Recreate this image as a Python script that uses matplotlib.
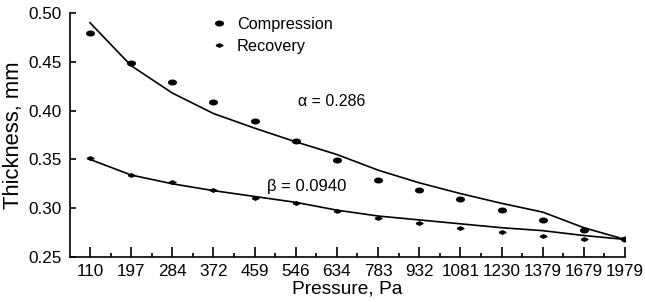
import matplotlib
matplotlib.use("Agg")
import matplotlib.pyplot as plt
import numpy as np

plt.rcParams['font.family'] = ['Liberation Sans', 'DejaVu Sans']

pressure = ["110", "197", "284", "372", "459", "546", "634", "783", "932",
            "1081", "1230", "1379", "1679", "1979"]

comp_pts = [0.479, 0.449, 0.429, 0.409, 0.389, 0.369, 0.349, 0.329, 0.319,
            0.309, 0.298, 0.288, 0.278, 0.268]
rec_pts = [0.351, 0.334, 0.327, 0.319, 0.310, 0.305, 0.297, 0.290, 0.285,
           0.280, 0.276, 0.272, 0.268, 0.268]

comp_fit = [0.490, 0.446, 0.418, 0.397, 0.382, 0.368, 0.355, 0.339, 0.326,
            0.315, 0.305, 0.296, 0.280, 0.268]
rec_fit = [0.350, 0.334, 0.325, 0.318, 0.312, 0.306, 0.298, 0.292, 0.288,
           0.284, 0.280, 0.277, 0.272, 0.268]

x = np.arange(len(pressure))

# flattened marker shapes
t = np.linspace(0, 2 * np.pi, 30)
ellipse = np.column_stack([np.cos(t), 0.6 * np.sin(t)])
diamond = [(-1, 0), (0, 0.5), (1, 0), (0, -0.5), (-1, 0)]

fig = plt.figure(figsize=(6.45, 3.02), dpi=100)
ax = fig.add_axes([0.1085, 0.149, 0.8605, 0.808])

ax.plot(x, comp_fit, color="black", lw=1.2)
ax.plot(x, rec_fit, color="black", lw=1.2)
ax.plot(x, comp_pts, ls="none", marker=ellipse, ms=5.5, color="black",
        label="Compression")
ax.plot(x, rec_pts, ls="none", marker=diamond, ms=5, color="black",
        label="Recovery")

ax.set_xlim(-0.486, 13)
ax.set_ylim(0.25, 0.50)
ax.set_xticks(x)
ax.set_xticklabels(pressure)
ax.set_xticks(x[:-1] + 0.5, minor=True)
ax.set_yticks([0.25, 0.30, 0.35, 0.40, 0.45, 0.50])
ax.set_yticklabels(["0.25", "0.30", "0.35", "0.40", "0.45", "0.50"])
ax.tick_params(axis="x", which="major", direction="in", length=7, width=1.2,
               labelsize=12.3, pad=5)
ax.tick_params(axis="x", which="minor", direction="in", length=3, width=1.2)
ax.tick_params(axis="y", direction="in", length=4, width=1.2, labelsize=12.3,
               pad=6)
for s in ["top", "right"]:
    ax.spines[s].set_visible(False)
for s in ["left", "bottom"]:
    ax.spines[s].set_linewidth(1.2)

ax.set_xlabel("Pressure, Pa", fontsize=13.8, labelpad=1)
ax.set_ylabel("Thickness, mm", fontsize=15.8, labelpad=3)

ax.text(5.05, 0.405, "α = 0.286", fontsize=11.5)
ax.text(4.3, 0.318, "β = 0.0940", fontsize=12)

ax.legend(loc="upper left", bbox_to_anchor=(0.23, 1.045), frameon=False,
          fontsize=11.7, handlelength=0.8, handletextpad=0.7, labelspacing=0.45,
          numpoints=1)

fig.savefig("out.png", dpi=100)
